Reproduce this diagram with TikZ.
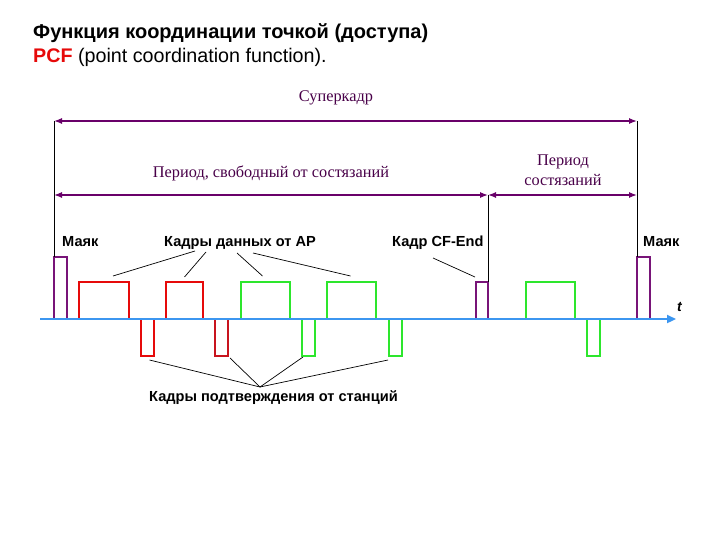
\documentclass[tikz,border=0pt]{standalone}
\usepackage{fontspec}
\setmainfont{Liberation Serif}
\setsansfont{Liberation Sans}
\usetikzlibrary{arrows.meta,positioning}

\definecolor{pcfred}{RGB}{230,10,10}
\definecolor{ackred}{RGB}{200,20,30}
\definecolor{framegreen}{RGB}{45,230,45}
\definecolor{beaconpurple}{RGB}{120,20,120}
\definecolor{spanpurple}{RGB}{105,0,105}
\definecolor{axisblue}{RGB}{60,150,240}

\begin{document}
\begin{tikzpicture}[
    x=1pt, y=-1pt,
    frame/.style={draw, line width=1.8pt, inner sep=0pt, outer sep=0pt, minimum height=37pt, minimum width=49pt, anchor=south west},
    ackframe/.style={draw, line width=1.6pt, inner sep=0pt, outer sep=0pt, minimum height=37pt, minimum width=13pt, anchor=north west},
    beacon/.style={frame, draw=beaconpurple, minimum width=13pt, minimum height=62pt},
    span/.style={{Latex[length=8pt,width=6pt]}-{Latex[length=8pt,width=6pt]}, line width=1.3pt, draw=spanpurple},
    spanlabel/.style={font=\fontsize{16.3}{19}\selectfont, text=spanpurple!70!black, inner sep=0pt, align=center},
    lbl/.style={font=\sffamily\bfseries\fontsize{14.6}{17}\selectfont, inner sep=0pt, anchor=base west},
    leader/.style={line width=0.7pt},
    bound/.style={line width=0.8pt}
]
\useasboundingbox[fill=white] (0,0) rectangle (720,540);

% title
\node[font=\sffamily\bfseries\fontsize{20}{23}\selectfont, inner sep=0pt, anchor=base west] (title) at (33,39) {Функция координации точкой (доступа)};
\node[font=\sffamily\fontsize{19.7}{23}\selectfont, inner sep=0pt, anchor=base west] (subtitle) at (33,63) {\textcolor{pcfred}{\bfseries PCF} (point coordination function).};

% frames above the axis
\node[beacon] (bcn1) at (54,319) {};
\node[frame, draw=pcfred, minimum width=50pt] (d1) at (79,319) {};
\node[frame, draw=pcfred, minimum width=37pt] (d2) at (166,319) {};
\node[frame, draw=framegreen] (d3) at (241,319) {};
\node[frame, draw=framegreen] (d4) at (327,319) {};
\node[frame, draw=beaconpurple, minimum width=12pt] (cfend) at (476,319) {};
\node[frame, draw=framegreen] (d5) at (526,319) {};
\node[beacon] (bcn2) at (637,319) {};

% acknowledgements below the axis
\node[ackframe, draw=pcfred] (a1) at (141,319) {};
\node[ackframe, draw=ackred] (a2) at (215,319) {};
\node[ackframe, draw=framegreen] (a3) at (302,319) {};
\node[ackframe, draw=framegreen] (a4) at (389,319) {};
\node[ackframe, draw=framegreen] (a5) at (587,319) {};

% time axis
\coordinate (axL) at (40,319);
\coordinate (axR) at (676,319);
\draw[axisblue, line width=2.6pt, -{Triangle[length=9pt,width=8pt]}] (axL) -- (axR);
\node[font=\sffamily\bfseries\itshape\fontsize{14}{16}\selectfont, inner sep=0pt, anchor=base west] (tlbl) at (677,311) {t};

% period boundaries
\coordinate (sfL) at (54,121);
\coordinate (sfR) at (637,121);
\coordinate (cfpL) at (54,195);
\coordinate (cfpM) at (488,195);
\coordinate (cpR) at (637,195);
\draw[bound] (sfL) -- (bcn1.north west);
\draw[bound] (sfR) -- (bcn2.north west);
\draw[bound] (cfpM) -- (cfend.north east);

% spans
\draw[span] (sfL) -- (sfR);
\draw[span] (cfpL) -- (cfpM);
\draw[span] (cfpM) -- (cpR);
\node[spanlabel] (superLbl) at (336,98) {Суперкадр};
\node[spanlabel] (cfpLbl) at (271,173) {Период, свободный от состязаний};
\node[spanlabel] (cpLbl) at (563,170) {Период\\[1pt]состязаний};

% labels
\node[lbl] (bcnLbl1) at (62,247) {Маяк};
\node[lbl] (bcnLbl2) at (643,247) {Маяк};
\node[lbl] (dataLbl) at (164,246) {Кадры данных от AP};
\node[lbl] (cfLbl) at (392,247) {Кадр CF-End};
\node[lbl] (ackLbl) at (149,401) {Кадры подтверждения от станций};

% leader lines
\coordinate (dl1) at (195,251);
\coordinate (dl2) at (206,252);
\coordinate (dl3) at (237,253);
\coordinate (dl4) at (253,253);
\coordinate (cfl) at (433,258);
\coordinate (ackHub) at (260,387);
\draw[leader] (dl1) -- ([shift={(9,-6)}]d1.north);
\draw[leader] (dl2) -- ([shift={(0,-5)}]d2.north);
\draw[leader] (dl3) -- ([shift={(-3,-6)}]d3.north);
\draw[leader] (dl4) -- ([shift={(-1,-6)}]d4.north);
\draw[leader] (cfl) -- ([shift={(-1,-5)}]cfend.north west);
\draw[leader] (ackHub) -- ([shift={(2,4)}]a1.south);
\draw[leader] (ackHub) -- ([shift={(2,2)}]a2.south east);
\draw[leader] (ackHub) -- ([shift={(1,1)}]a3.south west);
\draw[leader] (ackHub) -- ([shift={(-1,4)}]a4.south west);
\end{tikzpicture}
\end{document}
